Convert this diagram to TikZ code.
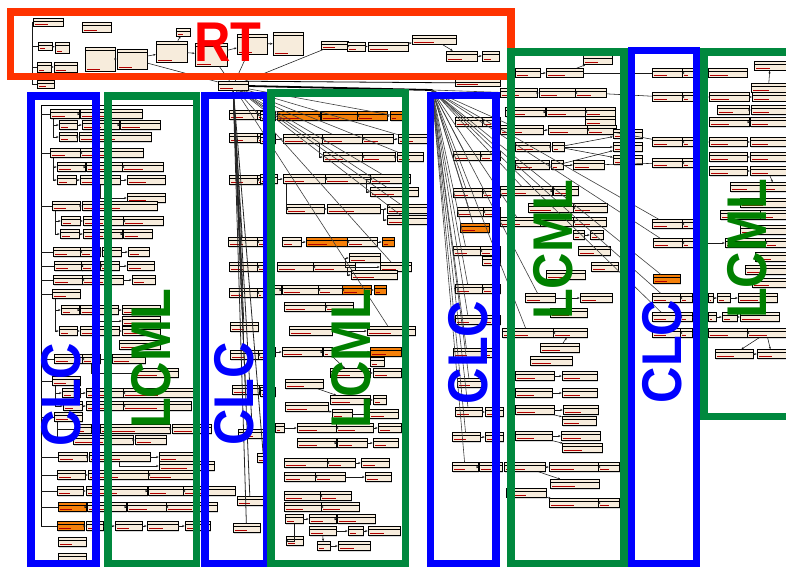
\documentclass[tikz,border=0pt]{standalone}
\usepackage{fontspec}
\newfontfamily\lblfont[FakeStretch=0.9]{Liberation Sans}
\usetikzlibrary{arrows.meta,shadows}

\definecolor{cb}{RGB}{247,236,220}
\definecolor{co}{RGB}{245,128,10}
\definecolor{rtred}{RGB}{255,51,0}
\definecolor{clcblue}{RGB}{0,0,255}
\definecolor{lcmlgreen}{RGB}{0,136,62}
\definecolor{lcmltext}{RGB}{0,128,0}

% one row of class boxes: prefix, y, list of x1/x2/fill
\newcommand\clsrow[3]{%
  \foreach \xa/\xb/\fc [count=\k, remember=\k as \kp (initially 0)] in {#3}{%
    \node[cls, fill=\fc, minimum width={\xb-\xa}] (#1-\k) at ({(\xa+\xb)/2},#2) {};
    \ifnum\kp>0 \draw[link,->] (#1-\kp) -- (#1-\k);\fi
  }}

\tikzset{
  cls/.style={draw, fill=cb, line width=0.5pt, inner sep=0pt, minimum height=9pt,
    drop shadow={shadow xshift=1pt, shadow yshift=-1pt, fill=black!30},
    path picture={
      \draw[line width=0.3pt] ([yshift=-3pt]path picture bounding box.north west) -- ([yshift=-3pt]path picture bounding box.north east);
      \draw[red!70!black, line width=0.8pt] ([xshift=2pt,yshift=2pt]path picture bounding box.south west) -- ([yshift=2pt]path picture bounding box.south);
    }},
  link/.style={line width=0.55pt, black!90},
  fanlink/.style={line width=0.6pt, black!75},
  frame/.style={line width=7.5pt},
  lbl/.style={font=\lblfont\bfseries\fontsize{56}{56}\selectfont, inner sep=0pt},
}

\begin{document}
\begin{tikzpicture}[x=1pt, y=-1pt, >={Stealth[length=2.5pt,width=2pt]}]
\fill[white] (0,0) rectangle (786,567);
\useasboundingbox (0,0) rectangle (786,567);

% RT classes
\node[cls, minimum width=30, minimum height=8] (rt1) at (48,22) {};
\node[cls, minimum width=29, minimum height=10] (rt2) at (96.5,27) {};
\node[cls, minimum width=14, minimum height=8] (rt3) at (45,46) {};
\node[cls, minimum width=14, minimum height=11] (rt4) at (62,47.5) {};
\node[cls, minimum width=14, minimum height=10] (rt5) at (44,67) {};
\node[cls, minimum width=23, minimum height=10] (rt6) at (65.5,67) {};
\node[cls, minimum width=17, minimum height=8] (rt7) at (45.5,84) {};
\node[cls, minimum width=30, minimum height=24] (rt8) at (100,59) {};
\node[cls, minimum width=30, minimum height=20] (rt9) at (132,59) {};
\node[cls, minimum width=14, minimum height=8] (rt10) at (183,32) {};
\node[cls, minimum width=31, minimum height=21] (rt11) at (171.5,51.5) {};
\node[cls, minimum width=32, minimum height=23] (rt12) at (211,54.5) {};
\node[cls, minimum width=30, minimum height=20] (rt13) at (252,44) {};
\node[cls, minimum width=30, minimum height=23] (rt14) at (288,43.5) {};
\node[cls, minimum width=27, minimum height=8] (rt15) at (334.5,45) {};
\node[cls, minimum width=18, minimum height=9] (rt16) at (356,46.5) {};
\node[cls, minimum width=40, minimum height=9] (rt17) at (388,46.5) {};
\node[cls, minimum width=44, minimum height=9] (rt18) at (434,39.5) {};
\node[cls, minimum width=31, minimum height=10] (rt19) at (461.5,56) {};
\node[cls, minimum width=17, minimum height=10] (rt20) at (490.5,56) {};
\node[cls, minimum width=45, minimum height=7] (rt21) at (477.5,83) {};
\node[cls, minimum width=30, minimum height=9] (hub) at (233,86) {};

\draw[link] (rt1.west) |- (rt7.west);
\draw[link] (rt1.west) |- (rt3.west);
\draw[link] (rt1.west) |- (rt5.west);
\draw[link,->] (rt3) -- (rt4);
\draw[link,->] (rt5) -- (rt6);
\draw[link,->] (rt8) -- (rt9);
\draw[link,->] (rt9) -- (rt11);
\draw[link,->] (rt11) -- (rt10);
\draw[link,->] (rt11) -- (rt12);
\draw[link,->] (rt12) -- (rt13);
\draw[link,->] (rt13) -- (rt14);
\draw[link,->] (rt15) -- (rt16);
\draw[link,->] (rt16) -- (rt17);
\draw[link,->] (rt17) -- (rt18);
\draw[link,->] (rt18) -- (rt19);
\draw[link,->] (rt19) -- (rt20);
\draw[link] (hub) -- (rt9);
\draw[link] (hub) -- (rt12);
\draw[link] (hub) -- (rt13);
\draw[link] (hub) -- (rt15);

% CLC / LCML classes, column 1
\clsrow{a1}{114}{50/79/cb, 80/142/cb}
\clsrow{a2}{125}{59/77/cb, 82/119/cb, 120/160/cb}
\clsrow{a3}{137}{59/77/cb, 79/151/cb}
\clsrow{a4}{153}{50/80/cb, 80/143/cb}
\clsrow{a5}{167}{57/85/cb, 86/122/cb, 122/163/cb}
\clsrow{a6}{180}{57/76/cb, 80/120/cb, 127/165/cb}
\clsrow{a6b}{198}{127/165/cb}
\clsrow{a7}{206}{52/80/cb, 82/157/cb}
\clsrow{a8}{221}{61/80/cb, 83/123/cb, 123/163/cb}
\clsrow{a9}{234}{60/79/cb, 83/122/cb, 123/152/cb}
\clsrow{a10}{252}{53/80/cb, 80/100/cb, 102/121/cb, 128/149/cb}
\clsrow{a11}{266}{54/82/cb, 81/100/cb, 100/119/cb, 127/154/cb}
\clsrow{a12}{280}{53/82/cb, 82/123/cb, 132/155/cb}
\clsrow{a13}{294}{52/80/cb}
\clsrow{a14}{310}{61/79/cb, 80/118/cb, 122/160/cb}
\clsrow{a14b}{321}{122/160/cb}
\clsrow{a15}{331}{59/77/cb, 80/119/cb, 122/160/cb}
\clsrow{a15b}{345}{119/160/cb}
\clsrow{a16}{359}{54/82/cb, 82/100/cb, 112/145/cb}
\clsrow{a16b}{373}{135/178/cb}
\clsrow{a17}{381}{52/80/cb}
\clsrow{a18}{393}{62/80/cb, 86/123/cb, 123/193/cb}
\clsrow{a19}{406}{63/82/cb, 86/123/cb, 123/191/cb}
\clsrow{a20}{417}{54/82/cb}
\clsrow{a21}{429}{77/91/cb, 100/170/cb, 172/211/cb}
\clsrow{a22}{440}{73/133/cb, 135/166/cb}
\clsrow{a23}{457}{58/87/cb, 89/150/cb, 159/193/cb}
\clsrow{a23b}{466}{159/214/cb}
\clsrow{a24}{475}{57/85/cb, 88/148/cb, 148/193/cb}
\clsrow{a25}{491}{57/83/cb, 86/147/cb, 148/183/cb, 183/235/cb}
\clsrow{a26}{507}{58/86/co, 87/126/cb, 127/166/cb, 166/217/cb}
\clsrow{a27}{526}{57/84/co, 86/103/cb, 115/142/cb, 147/178/cb, 185/210/cb}
\clsrow{a28}{542}{58/86/cb}
\clsrow{a29}{558}{58/86/cb}

\coordinate (tr) at (41,105);
\coordinate (tr2) at (41,526);
\coordinate (tre) at (200,105);
\draw[line width=0.9pt] (tr2) -- (tr);
\draw[line width=0.9pt,->] (tr) -- (tre);
\foreach \r in {a1,a4,a7,a10,a11,a12,a13,a16,a17,a20,a23,a24,a25,a26,a27}
  \draw[link] (\r-1.west) -- (\r-1.west -| tr);
\foreach \p/\c in {a1/a2,a1/a3,a4/a5,a4/a6,a7/a8,a7/a9,a13/a14,a13/a15,a17/a18,a17/a19,a20/a21,a20/a22}
  \draw[link,->] ([xshift=4pt]\p-1.south west) |- (\c-1.west);
\draw[link,->] (a6-2) |- (a6b-1);
\draw[link,->] (a14-2) |- (a14b-1);
\draw[link,->] (a16-2) |- (a16b-1);
\draw[link,->] (a23-2) |- (a23b-1);

% column 2
\clsrow{b1}{115}{229/257/cb, 257/272/cb}
\clsrow{b2}{138}{229/257/cb, 257/272/cb}
\clsrow{b3}{180}{229/257/cb, 257/272/cb}
\clsrow{b4}{242}{228/257/cb, 257/272/cb}
\clsrow{b5}{267}{229/257/cb, 257/272/cb}
\clsrow{b6}{293}{229/257/cb, 257/265/cb}
\clsrow{b7}{327}{230/258/cb}
\clsrow{b8}{355}{230/258/cb, 258/272/cb}
\clsrow{b9}{390}{232/259/cb, 259/272/cb}
\clsrow{b10}{434}{238/267/cb}
\clsrow{b11}{458}{257/270/cb}
\clsrow{b12}{501}{237/263/cb}
\clsrow{b13}{528}{233/260/cb}
\foreach \n in {b4-1,b6-1,b7-1,b8-1,b9-1,b10-1,b11-1,b12-1,b13-1}
  \draw[line width=0.8pt, black!85] (hub) -- (\n);

% column 3
\clsrow{c1}{116}{260/275/cb, 277/320/co, 321/357/co, 357/387/co, 390/402/co}
\clsrow{c2}{139}{260/275/cb, 283/322/cb, 322/362/cb, 362/393/cb, 398/427/cb}
\clsrow{c3}{157}{323/362/cb, 362/395/cb, 397/423/cb}
\clsrow{c4}{179}{260/277/cb, 283/325/cb, 325/370/cb, 370/410/cb}
\clsrow{c5}{192}{370/418/cb}
\clsrow{c6}{209}{286/324/cb, 327/380/cb, 387/427/cb}
\clsrow{c7}{220}{387/427/cb}
\clsrow{c8}{242}{282/301/cb, 306/347/co, 347/377/cb, 382/394/co}
\clsrow{c9}{258}{349/380/cb}
\clsrow{c10}{267}{277/313/cb, 313/355/cb, 380/411/cb}
\clsrow{c11}{275}{351/397/cb}
\clsrow{c12}{290}{263/281/cb, 282/318/cb, 318/342/cb, 342/371/co, 374/386/co}
\clsrow{c13}{307}{284/325/cb, 325/353/cb}
\clsrow{c14}{331}{289/332/cb, 367/415/cb}
\clsrow{c15}{352}{263/275/cb, 282/322/cb, 323/332/cb, 370/401/co}
\clsrow{c16}{362}{370/384/cb}
\clsrow{c17}{373}{330/370/cb, 373/401/cb}
\clsrow{c18}{384}{285/323/cb}
\clsrow{c19}{392}{260/275/cb}
\clsrow{c20}{400}{330/370/cb, 373/386/cb}
\clsrow{c21}{407}{285/328/cb}
\clsrow{c22}{414}{332/352/cb, 369/398/cb}
\clsrow{c23}{428}{275/284/cb, 297/336/cb, 336/373/cb, 378/401/cb}
\clsrow{c24}{443}{297/336/cb, 337/367/cb, 373/398/cb}
\clsrow{c25}{463}{284/327/cb, 327/355/cb, 361/389/cb}
\clsrow{c26}{477}{284/315/cb, 315/345/cb, 365/391/cb}
\clsrow{c27}{496}{284/320/cb, 320/351/cb}
\clsrow{c28}{507}{284/321/cb, 321/359/cb}
\clsrow{c29}{519}{285/303/cb, 309/336/cb, 337/375/cb}
\clsrow{c30}{531}{309/336/cb, 348/363/cb, 368/400/cb}
\clsrow{c31}{541}{286/303/cb}
\clsrow{c32}{546}{317/330/cb, 338/370/cb}
\draw[link,->] ([xshift=-3pt]c2-2.south east) |- (c3-1.west);
\draw[link,->] (c4-3.east) -| ([xshift=-3pt]c5-1.west) -- (c5-1.west);
\draw[link,->] (c6-2.east) -| ([xshift=-3pt]c7-1.west) -- (c7-1.west);
\draw[link,->] (c10-2.east) -| ([xshift=-3pt]c9-1.west) -- (c9-1.west);
\draw[link,->] (c10-2.east) -| ([xshift=-3pt]c11-1.west) -- (c11-1.west);
\draw[link,->] ([xshift=4pt]c4-2.south west) |- (c6-1.west);
\draw[link,->] (c15-3) -- (c17-1);
\draw[link,->] (c18-1) -- (c20-1);
\draw[link,->] (c21-1) -- (c22-1);
\draw[link,->] (c29-1) |- (c31-1);
\draw[link,->] (c30-1) -- (c32-1);
\foreach \n in {c1-5,c2-5,c3-3,c4-4,c5-1,c6-3,c7-1,c10-3,c2-3,c14-2}
  \draw[fanlink] (hub) -- (\n);

% column 4
\clsrow{d1}{122}{455/482/cb, 482/500/cb}
\clsrow{d2}{156}{453/480/cb, 480/500/cb}
\clsrow{d3}{193}{453/482/cb, 482/500/cb}
\clsrow{d4}{212}{457/483/cb, 483/500/cb}
\clsrow{d5}{228}{460/489/co}
\clsrow{d6}{251}{453/480/cb, 480/500/cb}
\clsrow{d7}{261}{482/500/cb}
\clsrow{d8}{289}{455/482/cb, 482/500/cb}
\clsrow{d9}{320}{455/482/cb, 482/500/cb}
\clsrow{d10}{353}{453/481/cb, 481/499/cb}
\clsrow{d11}{383}{457/482/cb}
\clsrow{d12}{412}{455/482/cb, 485/503/cb}
\clsrow{d13}{437}{452/480/cb, 485/503/cb}
\clsrow{d14}{467}{452/478/cb, 479/502/cb}
\coordinate (fan) at (432,90);
\draw[line width=1.8pt] (hub.east) -- (fan);
\draw[line width=0.8pt] (hub.north east) -- (rt21);
\foreach \n in {d1-1,d2-1,d3-1,d4-1,d5-1,d6-1,d8-1,d9-1,d10-1,d11-1,d12-1,d13-1,d14-1}
  \draw[fanlink] (fan) -- (\n);

% column 5
\clsrow{e1}{73}{515/540/cb, 546/583/cb}
\clsrow{e1b}{60}{583/612/cb}
\clsrow{e2}{93}{500/537/cb, 539/575/cb, 575/606/cb}
\clsrow{e3}{112}{505/545/cb, 546/585/cb, 585/615/cb}
\clsrow{e3b}{121}{585/615/cb}
\clsrow{e4}{130}{500/543/cb, 548/587/cb, 587/616/cb}
\clsrow{e5}{147}{515/550/cb, 552/564/cb, 613/642/cb}
\clsrow{e5b}{134}{613/642/cb}
\clsrow{e5c}{160}{613/642/cb}
\clsrow{e6}{165}{515/549/cb, 551/563/cb, 573/604/cb}
\clsrow{e7}{191}{500/552/cb, 553/578/cb}
\clsrow{e8}{208}{528/573/cb, 573/607/cb}
\clsrow{e9}{222}{500/540/cb, 540/573/cb, 573/606/cb}
\clsrow{e10}{235}{573/584/cb, 590/603/cb}
\clsrow{e11}{251}{578/610/cb}
\clsrow{e12}{267}{591/618/cb}
\clsrow{e13}{275}{546/585/cb}
\clsrow{e14}{298}{525/555/cb, 580/612/cb}
\clsrow{e15}{313}{550/587/cb}
\clsrow{e16}{333}{502/553/cb, 553/587/cb}
\clsrow{e17}{348}{540/579/cb}
\clsrow{e18}{361}{530/572/cb}
\clsrow{e19}{376}{515/554/cb, 562/597/cb}
\clsrow{e20}{393}{515/552/cb, 562/597/cb}
\clsrow{e21}{410}{515/554/cb, 563/598/cb}
\clsrow{e22}{421}{562/596/cb}
\clsrow{e23}{436}{515/552/cb, 561/600/cb}
\clsrow{e24}{448}{562/602/cb}
\clsrow{e25}{467}{504/545/cb, 549/598/cb, 598/619/cb}
\clsrow{e26}{484}{550/599/cb}
\clsrow{e27}{493}{506/546/cb}
\clsrow{e28}{503}{549/598/cb, 598/619/cb}
\draw[link,->] (e1-2) -- (e1b-1);
\draw[link,->] (e5-2) -- (e5b-1);
\draw[link,->] (e5-2) -- (e5c-1);
\draw[link,->] (e6-2) -- (e5-3);
\draw[link,->] (e21-1) -- (e22-1);
\draw[link,->] (e23-1) -- (e24-1);
\draw[link,->] (e25-1) -- (e26-1);
\draw[link,->] (e27-1) -- (e28-1);
\draw[link,->] (e17-1) -- (e16-2);
\foreach \n in {e2-1,e4-1,e7-1,e9-1,e14-1,e16-1}
  \draw[fanlink] (fan) -- (\n);

% column 6 and 7
\clsrow{f1}{73}{652/682/cb, 682/693/cb, 708/747/cb}
\clsrow{f2}{97}{652/682/cb, 682/693/cb, 709/749/cb, 752/786/cb}
\clsrow{f3}{142}{652/682/cb, 682/693/cb, 709/747/cb, 750/786/cb}
\clsrow{f4}{163}{652/682/cb, 682/693/cb}
\clsrow{f5}{224}{652/682/cb, 682/693/cb}
\clsrow{f6}{243}{653/682/cb, 682/693/cb, 725/765/cb, 765/786/cb}
\clsrow{f7}{279}{653/680/co}
\clsrow{f8}{298}{652/680/cb, 680/692/cb, 708/713/cb, 717/730/cb, 738/777/cb}
\clsrow{f9}{317}{652/680/cb, 680/692/cb, 708/716/cb, 722/737/cb, 740/779/cb}
\clsrow{f10}{333}{652/680/cb, 680/692/cb, 708/747/cb, 747/786/cb}
\clsrow{g1}{66}{754/786/cb}
\clsrow{g3}{88}{751/786/cb}
\clsrow{g5}{110}{717/749/cb, 751/786/cb}
\clsrow{g6}{122}{709/749/cb, 750/786/cb}
\clsrow{g8}{157}{709/747/cb, 750/786/cb}
\clsrow{g9}{171}{709/747/cb, 750/786/cb}
\clsrow{g10}{187}{730/763/cb, 763/786/cb}
\clsrow{g11}{203}{740/786/cb}
\clsrow{g12}{215}{720/760/cb, 760/786/cb}
\clsrow{g13}{230}{740/786/cb}
\clsrow{g15}{257}{755/786/cb}
\clsrow{g16}{270}{745/786/cb}
\clsrow{g17}{283}{752/786/cb}
\clsrow{g19}{354}{715/753/cb, 757/786/cb}
\draw[link,->] (g3-1) -- (g1-1);
\draw[link,->] (g9-2) -- (g10-2);
\draw[link,->] (f10-4) -- (g19-1);
\draw[link,->] (f10-4) -- (g19-2);
\draw[link] (e1-2) -- (f1-1);
\draw[link] (e2-3) -- (f2-1);
\draw[link] (e4-3) -- (f3-1);
\draw[link] (e6-3) -- (f4-1);
\foreach \n in {f5-1,f6-1,f7-1,f8-1,f9-1}
  \draw[fanlink] (fan) -- (\n);

% frames
\draw[frame, rtred] (10.5,12) rectangle (511,76.5);
\draw[frame, clcblue] (31,96) rectangle (96,563.5);
\draw[frame, lcmlgreen] (108,96) rectangle (196.5,563.5);
\draw[frame, clcblue] (205,95.5) rectangle (266.5,563.5);
\draw[frame, lcmlgreen] (271,93) rectangle (405.5,563.5);
\draw[frame, clcblue] (430.5,95.5) rectangle (496,563.5);
\draw[frame, lcmlgreen] (511,52) rectangle (624,563.5);
\draw[frame, clcblue] (631.5,50.5) rectangle (696.5,563.5);
\draw[frame, lcmlgreen] (704,52) rectangle (792,416.5);

% labels
\node[lbl, text=red] (rt) at (228,42) {RT};
\node[lbl, text=clcblue, rotate=90] (clc1) at (61,394.5) {CLC};
\node[lbl, text=lcmltext, rotate=90] (lcml1) at (151,359) {LCML};
\node[lbl, text=clcblue, rotate=90] (clc2) at (234,394) {CLC};
\node[lbl, text=lcmltext, rotate=90] (lcml2) at (351,358.5) {LCML};
\node[lbl, text=clcblue, rotate=90] (clc3) at (468,352.5) {CLC};
\node[lbl, text=lcmltext, rotate=90] (lcml3) at (553,250) {LCML};
\node[lbl, text=clcblue, rotate=90] (clc4) at (662,351.5) {CLC};
\node[lbl, text=lcmltext, rotate=90] (lcml4) at (747,249) {LCML};
\end{tikzpicture}
\end{document}
